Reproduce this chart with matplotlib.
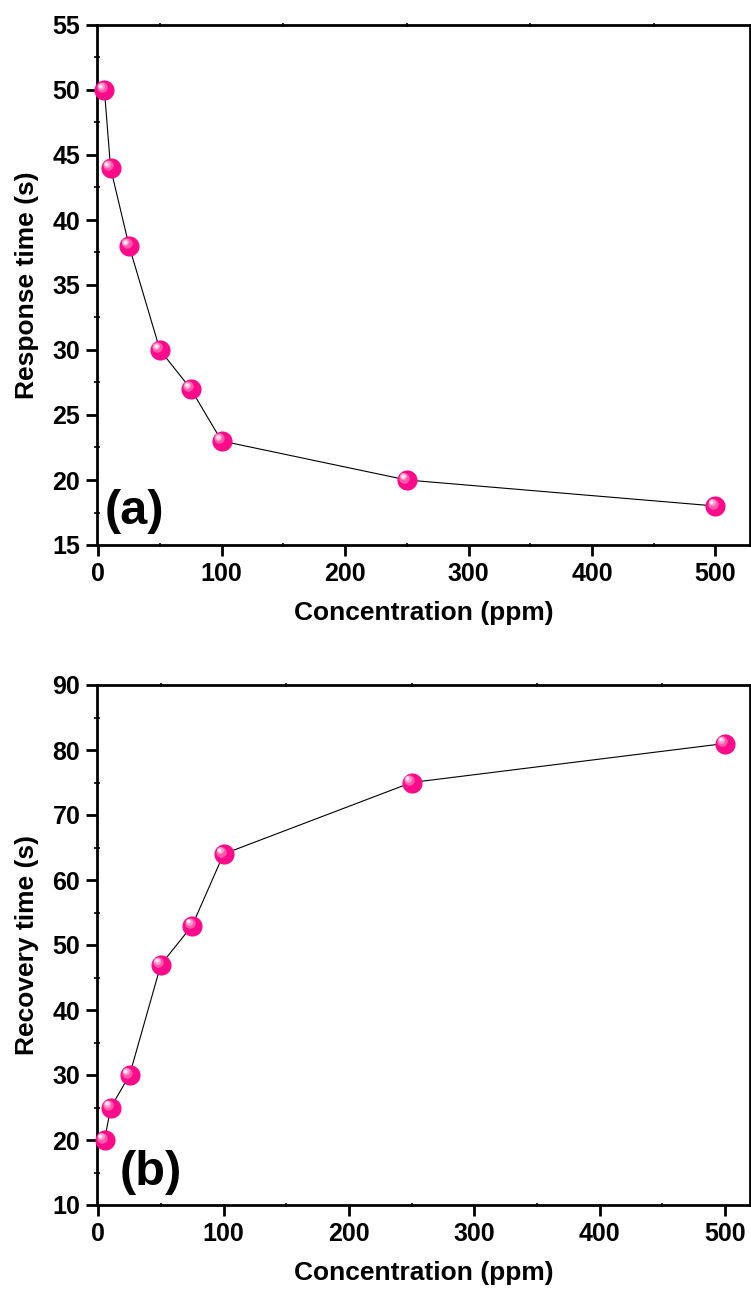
import matplotlib
matplotlib.use("Agg")
import matplotlib.pyplot as plt
import matplotlib.transforms as mtransforms

plt.rcParams['font.family'] = ['Liberation Sans', 'DejaVu Sans']
plt.rcParams['font.weight'] = 'bold'

conc = [5, 10, 25, 50, 75, 100, 250, 500]
response = [50, 44, 38, 30, 27, 23, 20, 18]
recovery = [20, 25, 30, 47, 53, 64, 75, 81]

W, H = 751, 1297
fig = plt.figure(figsize=(W / 100, H / 100), dpi=100)


def box(l, t, r, b):
    return [l / W, 1 - b / H, (r - l) / W, (b - t) / H]


def sphere_plot(ax, x, y):
    ax.plot(x, y, color='black', lw=0.8, zorder=2)
    ax.plot(x, y, 'o', ms=14.5, mfc='#ff0a8a', mec='#ff0a8a', mew=0, ls='none',
            zorder=3, clip_on=False)
    # highlight layers, shifted up-left
    layers = [(7.5, '#ff5aae', -1.8, 1.8), (5.0, '#ff9ccd', -2.6, 2.6),
              (3.0, '#ffd6ea', -3.0, 3.0), (1.6, 'white', -3.2, 3.2)]
    for ms, c, dx, dy in layers:
        tr = mtransforms.offset_copy(ax.transData, fig=fig, x=dx, y=dy, units='points')
        ax.plot(x, y, 'o', ms=ms, mfc=c, mec=c, mew=0, ls='none', zorder=4,
                transform=tr, clip_on=False)


def style(ax, xlim, ylim, ystep, ylabel):
    ax.set_xlim(*xlim)
    ax.set_ylim(*ylim)
    ax.set_xticks([0, 100, 200, 300, 400, 500])
    ax.set_xticks([50, 150, 250, 350, 450], minor=True)
    yt = list(range(ylim[0], ylim[1] + 1, ystep))
    ax.set_yticks(yt)
    ax.set_yticks([v + ystep / 2 for v in yt[:-1]], minor=True)
    for s in ax.spines.values():
        s.set_linewidth(2)
    ax.tick_params(which='major', direction='out', length=8, width=2,
                   labelsize=18, pad=4)
    ax.tick_params(which='minor', direction='inout', length=4, width=1.2)
    ax.tick_params(axis='x', which='minor', top=True, length=3)
    for lab in ax.get_xticklabels() + ax.get_yticklabels():
        lab.set_fontweight('bold')
    ax.set_xlabel('Concentration (ppm)', fontsize=19, fontweight='bold')
    ax.set_ylabel(ylabel, fontsize=19, fontweight='bold')
    ax.xaxis.set_label_coords(0.5, -0.108)
    ax.yaxis.set_label_coords(-0.089, 0.5)


ax1 = fig.add_axes(box(97, 25, 750, 545))
sphere_plot(ax1, conc, response)
style(ax1, (-1, 528), (15, 55), 5, 'Response time (s)')
ax1.text(0.012, 0.065, '(a)', transform=ax1.transAxes, fontsize=35,
         fontweight='bold', va='center', ha='left')

ax2 = fig.add_axes(box(97, 685, 750, 1205))
sphere_plot(ax2, conc, recovery)
style(ax2, (-1, 520), (10, 90), 10, 'Recovery time (s)')
ax2.text(0.035, 0.063, '(b)', transform=ax2.transAxes, fontsize=35,
         fontweight='bold', va='center', ha='left')

fig.savefig('out.png', dpi=100)
